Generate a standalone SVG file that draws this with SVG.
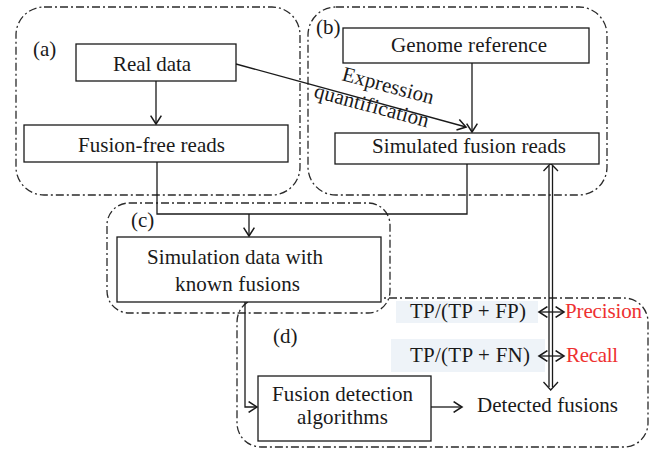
<svg xmlns="http://www.w3.org/2000/svg" width="655" height="450" viewBox="0 0 655 450">
  <style>
    .grp { fill: none; stroke: #2a2a2a; stroke-width: 1.3; stroke-dasharray: 8 3 2 3; }
    .box { fill: #ffffff; stroke: #1a1a1a; stroke-width: 1.3; }
    .lbl { font-family: "Liberation Serif", "Times New Roman", serif; font-size: 21px; fill: #1a1a1a; }
    .red { fill: #ee3030; }
    .line { fill: none; stroke: #1a1a1a; stroke-width: 1.3; }
    .hl { fill: #eef3f8; }
  </style>
  <defs>
    <marker id="arrow" markerUnits="userSpaceOnUse" markerWidth="12" markerHeight="12" refX="8" refY="5" orient="auto-start-reverse" viewBox="0 0 10 10">
      <path d="M1,0.5 L8,5 L1,9.5" fill="none" stroke="#1a1a1a" stroke-width="1.3"/>
    </marker>
  </defs>

  <!-- dash-dot panels -->
  <g id="panel-a"><rect class="grp" x="16" y="7" width="284" height="188" rx="28"/></g>
  <g id="panel-b"><rect class="grp" x="308" y="7" width="299" height="188" rx="28"/></g>
  <g id="panel-c"><rect class="grp" x="107" y="203" width="283" height="110" rx="22"/></g>
  <g id="panel-d"><rect class="grp" x="237" y="298" width="411" height="149" rx="24"/></g>

  <!-- formula highlights -->
  <rect class="hl" x="396" y="301" width="142" height="22"/>
  <rect class="hl" x="391" y="339" width="154" height="33"/>

  <!-- connectors -->
  <g id="connectors">
    <line class="line" x1="156" y1="81" x2="156" y2="124" marker-end="url(#arrow)"/>
    <line class="line" x1="236" y1="64" x2="466" y2="127" marker-end="url(#arrow)"/>
    <line class="line" x1="472" y1="63" x2="472" y2="132" marker-end="url(#arrow)"/>
    <polyline class="line" points="157,162 157,214 467,214 467,164"/>
    <line class="line" x1="249" y1="214" x2="249" y2="236" marker-end="url(#arrow)"/>
    <polyline class="line" points="245,302 245,407 257,407" marker-end="url(#arrow)"/>
    <line class="line" x1="431" y1="407" x2="462" y2="407" marker-end="url(#arrow)"/>
    <!-- double-line link between simulated and detected fusions -->
    <line class="line" x1="549" y1="166" x2="549" y2="387"/>
    <line class="line" x1="552.5" y1="166" x2="552.5" y2="387"/>
    <path class="line" d="M543.5,171 L550.7,163.5 L558,171"/>
    <path class="line" d="M543.5,382 L550.7,390 L558,382"/>
    <!-- metric arrows -->
    <line class="line" x1="539" y1="312" x2="564" y2="312" marker-start="url(#arrow)" marker-end="url(#arrow)"/>
    <line class="line" x1="539" y1="356" x2="564" y2="356" marker-start="url(#arrow)" marker-end="url(#arrow)"/>
  </g>

  <!-- panel labels -->
  <text class="lbl" x="33" y="56">(a)</text>
  <text class="lbl" x="316" y="34">(b)</text>
  <text class="lbl" x="131" y="227">(c)</text>
  <text class="lbl" x="273" y="343">(d)</text>

  <text class="lbl" transform="translate(341,80) rotate(15)" textLength="94">Expression</text>
  <text class="lbl" transform="translate(313,97) rotate(15)" textLength="118">quantification</text>

  <g id="real-data">
    <rect class="box" x="76" y="44" width="160" height="37"/>
    <text class="lbl" x="113" y="71" textLength="78">Real data</text>
  </g>
  <g id="fusion-free-reads">
    <rect class="box" x="24" y="125" width="264" height="37"/>
    <text class="lbl" x="78" y="152" textLength="147">Fusion-free reads</text>
  </g>
  <g id="genome-reference">
    <rect class="box" x="343" y="28" width="246" height="35"/>
    <text class="lbl" x="391" y="52" textLength="156">Genome reference</text>
  </g>
  <g id="simulated-fusion-reads">
    <rect class="box" x="335" y="133" width="264" height="31"/>
    <text class="lbl" x="372" y="153" textLength="194">Simulated fusion reads</text>
  </g>
  <g id="simulation-data">
    <rect class="box" x="117" y="237" width="264" height="65"/>
    <text class="lbl" x="147" y="264" textLength="176">Simulation data with</text>
    <text class="lbl" x="175" y="291" textLength="125">known fusions</text>
  </g>
  <g id="fusion-detection">
    <rect class="box" x="258" y="376" width="173" height="65"/>
    <text class="lbl" x="272" y="401" textLength="141">Fusion detection</text>
    <text class="lbl" x="297" y="424" textLength="91">algorithms</text>
  </g>
  <g id="detected-fusions">
    <text class="lbl" x="477" y="412" textLength="141">Detected fusions</text>
  </g>
  <g id="precision">
    <text class="lbl" x="410" y="318" textLength="116">TP/(TP + FP)</text>
    <text class="lbl red" x="565" y="318" textLength="77">Precision</text>
  </g>
  <g id="recall">
    <text class="lbl" x="410" y="362" textLength="120">TP/(TP + FN)</text>
    <text class="lbl red" x="566" y="362" textLength="52">Recall</text>
  </g>
</svg>
